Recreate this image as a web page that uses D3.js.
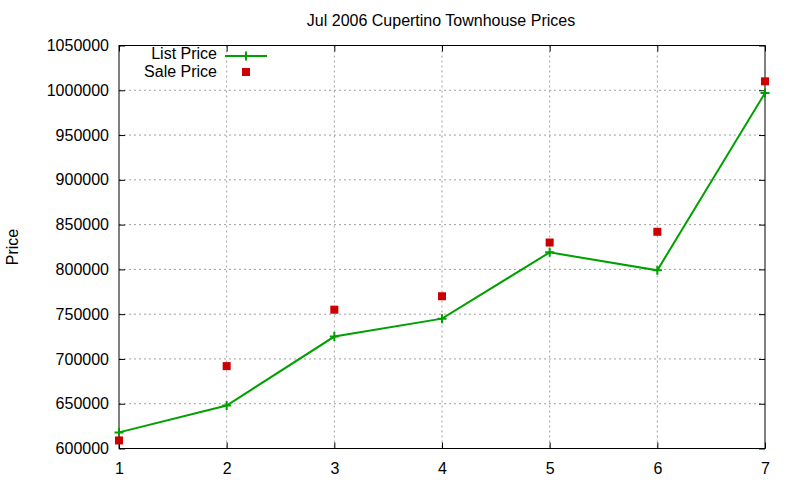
<!DOCTYPE html>
<html><head><meta charset="utf-8">
<script src="https://cdn.jsdelivr.net/npm/d3@7"></script>
<style>body{margin:0;background:#fff}svg{display:block}text{font-family:"Liberation Sans",Arial,sans-serif}</style>
</head><body><svg id="c" width="800" height="480"></svg>
<script>
const months = [1,2,3,4,5,6,7];
const listPrice = [618000,648000,725000,745000,819000,799000,997000];
const salePrice = [609000,692000,755000,770000,830000,842000,1010000];
const yTicks = [600000,650000,700000,750000,800000,850000,900000,950000,1000000,1050000];
const title = "Jul 2006 Cupertino Townhouse Prices";
const yLabel = "Price";
const seriesNames = ["List Price","Sale Price"];

const svg = d3.select("#c");
const L=119,R=765,T=45.5,B=448.5;
const x = d3.scaleLinear().domain([1,7]).range([L,R]);
const y = d3.scaleLinear().domain([600000,1050000]).range([B,T]);
const fs = "16px";

// grid
const g = svg.append("g");
g.selectAll(".gx").data(months.filter(m=>m>1&&m<7)).join("line")
 .attr("x1",d=>x(d)).attr("x2",d=>x(d)).attr("y1",T).attr("y2",B)
 .attr("stroke","#a0a0a0").attr("stroke-dasharray","2,3");
g.selectAll(".gy").data(yTicks.filter(v=>v>600000&&v<1050000)).join("line")
 .attr("x1",L).attr("x2",R).attr("y1",d=>y(d)).attr("y2",d=>y(d))
 .attr("stroke","#a0a0a0").attr("stroke-dasharray","2,3");

// axes with inward ticks
const tl=6;
const axL = svg.append("g").attr("transform",`translate(${L},0)`)
 .call(d3.axisLeft(y).tickValues(yTicks).tickSize(-tl).tickPadding(10).tickFormat(d3.format("d")));
const axR = svg.append("g").attr("transform",`translate(${R},0)`)
 .call(d3.axisRight(y).tickValues(yTicks).tickSize(-tl).tickFormat(""));
const axB = svg.append("g").attr("transform",`translate(0,${B})`)
 .call(d3.axisBottom(x).tickValues(months).tickSize(-tl).tickPadding(14).tickFormat(d3.format("d")));
const axT = svg.append("g").attr("transform",`translate(0,${T})`)
 .call(d3.axisTop(x).tickValues(months).tickSize(-tl).tickFormat(""));
[axL,axR,axB,axT].forEach(a=>{a.select(".domain").remove();
 a.selectAll(".tick line").attr("stroke","#000");
 a.selectAll("text").attr("fill","#000").style("font-size",fs).style("font-family","Liberation Sans, Arial, sans-serif");});
svg.append("rect").attr("x",L).attr("y",T).attr("width",R-L).attr("height",B-T)
 .attr("fill","none").attr("stroke","#000").attr("stroke-width",1);

// title & label
svg.append("text").attr("x",441).attr("y",26).attr("text-anchor","middle").style("font-size",fs).text(title);
svg.append("text").attr("transform","translate(18,247) rotate(-90)").attr("text-anchor","middle").style("font-size",fs).text(yLabel);

const green="#00a000", red="#cc0000";
const plus = (sel,cx,cy)=>{sel.append("path").attr("d",`M${cx-4.5},${cy}H${cx+4.5}M${cx},${cy-4.5}V${cy+4.5}`).attr("stroke",green).attr("stroke-width",2);};

// list price line
const line = d3.line().x((d,i)=>x(months[i])).y(d=>y(d));
svg.append("path").datum(listPrice).attr("d",line).attr("fill","none").attr("stroke",green).attr("stroke-width",2);
listPrice.forEach((v,i)=>plus(svg,x(months[i]),y(v)));

// sale price squares
svg.selectAll(".sq").data(salePrice).join("rect")
 .attr("x",(d,i)=>x(months[i])-4).attr("y",d=>y(d)-4).attr("width",8).attr("height",8).attr("fill",red);

// legend
svg.append("text").attr("x",217).attr("y",59).attr("text-anchor","end").style("font-size",fs).text(seriesNames[0]);
svg.append("line").attr("x1",225).attr("x2",267).attr("y1",56).attr("y2",56).attr("stroke",green).attr("stroke-width",2);
plus(svg,246,56);
svg.append("text").attr("x",217).attr("y",77).attr("text-anchor","end").style("font-size",fs).text(seriesNames[1]);
svg.append("rect").attr("x",242).attr("y",68).attr("width",8).attr("height",8).attr("fill",red);
</script></body></html>
